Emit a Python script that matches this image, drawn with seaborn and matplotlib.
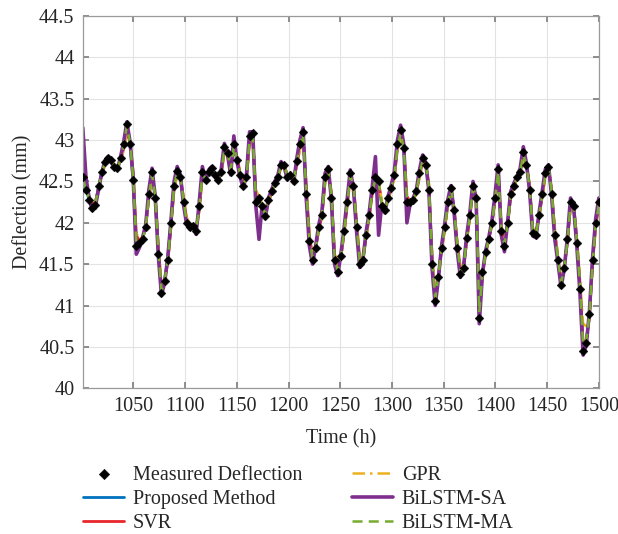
import numpy as np
import pandas as pd
import seaborn as sns
import matplotlib.pyplot as plt
from matplotlib.ticker import FormatStrFormatter, MultipleLocator

# time axis: 165 evenly spaced samples between 1001 h and 1500 h
hours = np.linspace(1001, 1500, 165)

measured = [
    42.55, 42.40, 42.28, 42.18, 42.22, 42.45, 42.62, 42.74, 42.78, 42.76,
    42.68, 42.66, 42.78, 42.95, 43.20, 42.95, 42.52, 41.72, 41.75, 41.80,
    41.95, 42.35, 42.62, 42.30, 41.62, 41.15, 41.30, 41.55, 42.00, 42.45,
    42.63, 42.55, 42.25, 42.00, 41.95, 41.96, 41.90, 42.20, 42.62, 42.52,
    42.62, 42.66, 42.58, 42.52, 42.62, 42.92, 42.84, 42.62, 42.95, 42.76,
    42.58, 42.45, 42.55, 43.05, 43.08, 42.25, 42.30, 42.20, 42.08, 42.28,
    42.38, 42.48, 42.55, 42.70, 42.70, 42.55, 42.58, 42.50, 42.75, 42.95,
    43.10, 42.35, 41.78, 41.55, 41.70, 41.95, 42.10, 42.55, 42.65, 42.30,
    41.55, 41.40, 41.60, 41.90, 42.25, 42.60, 42.45, 41.95, 41.50, 41.55,
    41.85, 42.10, 42.40, 42.55, 42.50, 42.20, 42.15, 42.30, 42.42, 42.58,
    42.95, 43.12, 42.90, 42.25, 42.25, 42.28, 42.38, 42.60, 42.78, 42.70,
    42.40, 41.50, 41.05, 41.35, 41.70, 41.95, 42.25, 42.42, 42.15, 41.70,
    41.38, 41.45, 41.82, 42.10, 42.45, 42.30, 40.85, 41.40, 41.65, 41.80,
    42.00, 42.30, 42.65, 41.90, 41.72, 42.00, 42.35, 42.45, 42.55, 42.62,
    42.85, 42.70, 42.40, 41.88, 41.85, 42.10, 42.35, 42.60, 42.68, 42.35,
    41.85, 41.55, 41.25, 41.45, 41.80, 42.25, 42.20, 41.75, 41.20, 40.45,
    40.55, 40.90, 41.55, 42.00, 42.25,
]

proposed = [
    42.52, 42.42, 42.27, 42.19, 42.24, 42.44, 42.61, 42.73, 42.77, 42.75,
    42.69, 42.67, 42.77, 42.96, 43.18, 42.96, 42.50, 41.74, 41.76, 41.81,
    41.96, 42.33, 42.60, 42.31, 41.64, 41.17, 41.31, 41.56, 41.99, 42.44,
    42.62, 42.55, 42.26, 42.01, 41.96, 41.95, 41.91, 42.19, 42.60, 42.53,
    42.61, 42.65, 42.58, 42.53, 42.61, 42.90, 42.84, 42.63, 42.93, 42.77,
    42.58, 42.46, 42.54, 43.03, 43.06, 42.27, 42.29, 42.21, 42.09, 42.27,
    42.38, 42.47, 42.55, 42.69, 42.70, 42.56, 42.57, 42.51, 42.74, 42.94,
    43.08, 42.37, 41.80, 41.56, 41.70, 41.94, 42.11, 42.54, 42.64, 42.31,
    41.57, 41.41, 41.60, 41.89, 42.24, 42.58, 42.45, 41.96, 41.52, 41.55,
    41.84, 42.09, 42.39, 42.54, 42.49, 42.21, 42.16, 42.29, 42.42, 42.57,
    42.93, 43.10, 42.89, 42.27, 42.25, 42.28, 42.37, 42.59, 42.76, 42.70,
    42.41, 41.52, 41.07, 41.35, 41.69, 41.94, 42.24, 42.41, 42.16, 41.71,
    41.40, 41.46, 41.81, 42.09, 42.43, 42.31, 40.88, 41.39, 41.64, 41.80,
    41.99, 42.29, 42.63, 41.91, 41.73, 41.99, 42.34, 42.45, 42.54, 42.62,
    42.83, 42.70, 42.41, 41.89, 41.86, 42.09, 42.34, 42.59, 42.67, 42.36,
    41.87, 41.56, 41.27, 41.45, 41.79, 42.23, 42.20, 41.76, 41.22, 40.48,
    40.56, 40.89, 41.53, 41.99, 42.22,
]

svr = [
    42.50, 42.45, 42.32, 42.22, 42.25, 42.42, 42.58, 42.70, 42.76, 42.75,
    42.70, 42.68, 42.75, 42.90, 43.12, 42.98, 42.60, 41.85, 41.78, 41.82,
    41.98, 42.30, 42.56, 42.34, 41.70, 41.22, 41.30, 41.52, 41.95, 42.40,
    42.60, 42.56, 42.30, 42.05, 41.97, 41.96, 41.93, 42.15, 42.56, 42.54,
    42.60, 42.64, 42.59, 42.55, 42.60, 42.86, 42.85, 42.66, 42.90, 42.79,
    42.60, 42.48, 42.53, 42.98, 43.04, 42.35, 42.30, 42.22, 42.10, 42.25,
    42.36, 42.46, 42.54, 42.67, 42.70, 42.58, 42.57, 42.52, 42.70, 42.90,
    43.04, 42.45, 41.85, 41.60, 41.68, 41.92, 42.08, 42.50, 42.62, 42.35,
    41.62, 41.45, 41.58, 41.86, 42.20, 42.55, 42.47, 42.00, 41.56, 41.55,
    41.82, 42.06, 42.36, 42.52, 42.50, 42.24, 42.17, 42.28, 42.40, 42.55,
    42.90, 43.06, 42.92, 42.32, 42.26, 42.27, 42.36, 42.56, 42.74, 42.71,
    42.45, 41.58, 41.12, 41.35, 41.67, 41.92, 42.22, 42.40, 42.18, 41.75,
    41.44, 41.46, 41.78, 42.06, 42.40, 42.33, 40.95, 41.38, 41.62, 41.79,
    41.98, 42.27, 42.60, 41.95, 41.76, 41.98, 42.32, 42.44, 42.54, 42.61,
    42.80, 42.71, 42.44, 41.92, 41.86, 42.07, 42.32, 42.57, 42.66, 42.40,
    41.90, 41.58, 41.30, 41.45, 41.77, 42.20, 42.21, 41.80, 41.28, 40.55,
    40.58, 40.86, 41.50, 41.96, 42.20,
]

gpr = [
    42.48, 42.44, 42.33, 42.24, 42.26, 42.40, 42.57, 42.69, 42.75, 42.74,
    42.71, 42.69, 42.74, 42.88, 43.10, 43.00, 42.62, 41.88, 41.80, 41.83,
    41.97, 42.28, 42.55, 42.36, 41.74, 41.25, 41.32, 41.52, 41.93, 42.38,
    42.58, 42.57, 42.32, 42.07, 41.98, 41.95, 41.94, 42.14, 42.54, 42.55,
    42.59, 42.63, 42.60, 42.56, 42.59, 42.84, 42.86, 42.68, 42.88, 42.80,
    42.62, 42.50, 42.52, 42.95, 43.02, 42.40, 42.32, 42.23, 42.12, 42.24,
    42.35, 42.45, 42.53, 42.66, 42.70, 42.60, 42.56, 42.53, 42.68, 42.88,
    43.02, 42.50, 41.90, 41.62, 41.67, 41.90, 42.06, 42.48, 42.61, 42.38,
    41.66, 41.48, 41.57, 41.84, 42.18, 42.52, 42.48, 42.04, 41.60, 41.56,
    41.80, 42.04, 42.34, 42.50, 42.51, 42.26, 42.18, 42.27, 42.39, 42.53,
    42.87, 43.03, 42.94, 42.36, 42.27, 42.27, 42.35, 42.54, 42.72, 42.72,
    42.48, 41.62, 41.16, 41.36, 41.66, 41.90, 42.20, 42.38, 42.20, 41.78,
    41.48, 41.47, 41.76, 42.04, 42.38, 42.35, 41.00, 41.36, 41.60, 41.78,
    41.97, 42.25, 42.58, 41.98, 41.78, 41.97, 42.30, 42.43, 42.53, 42.60,
    42.78, 42.72, 42.46, 41.95, 41.87, 42.06, 42.30, 42.55, 42.65, 42.43,
    41.94, 41.60, 41.32, 41.46, 41.75, 42.18, 42.22, 41.84, 41.32, 40.78,
    40.75, 40.88, 41.48, 41.94, 42.18,
]

bilstm_sa = [
    43.15, 42.55, 42.30, 42.15, 42.20, 42.40, 42.60, 42.75, 42.80, 42.74,
    42.66, 42.64, 42.80, 42.98, 43.22, 42.98, 42.55, 41.62, 41.70, 41.82,
    41.98, 42.40, 42.66, 42.32, 41.60, 41.12, 41.28, 41.58, 42.02, 42.50,
    42.68, 42.58, 42.22, 41.98, 41.92, 41.98, 41.86, 42.25, 42.68, 42.50,
    42.64, 42.68, 42.56, 42.50, 42.65, 42.96, 42.82, 42.58, 43.05, 42.74,
    42.55, 42.42, 42.58, 43.10, 43.10, 42.20, 41.80, 42.22, 42.05, 42.30,
    42.40, 42.50, 42.58, 42.74, 42.68, 42.52, 42.60, 42.48, 42.78, 43.00,
    43.15, 42.30, 41.72, 41.50, 41.72, 41.98, 42.14, 42.60, 42.68, 42.28,
    41.50, 41.36, 41.62, 41.92, 42.28, 42.64, 42.42, 41.90, 41.46, 41.55,
    41.88, 42.12, 42.44, 42.80, 41.85, 42.22, 42.12, 42.32, 42.45, 42.62,
    43.00, 43.18, 42.95, 42.00, 42.22, 42.30, 42.40, 42.64, 42.82, 42.72,
    42.38, 41.45, 41.00, 41.32, 41.72, 41.98, 42.28, 42.45, 42.12, 41.66,
    41.34, 41.46, 41.85, 42.12, 42.50, 42.28, 40.78, 41.38, 41.66, 41.82,
    42.02, 42.34, 42.70, 41.85, 41.65, 42.02, 42.38, 42.48, 42.56, 42.66,
    42.92, 42.72, 42.38, 41.84, 41.82, 42.12, 42.38, 42.65, 42.70, 42.32,
    41.80, 41.52, 41.22, 41.44, 41.82, 42.30, 42.18, 41.72, 41.15, 40.40,
    40.52, 40.92, 41.58, 42.05, 42.30,
]

bilstm_ma = [
    42.54, 42.41, 42.29, 42.20, 42.23, 42.43, 42.60, 42.72, 42.77, 42.76,
    42.69, 42.66, 42.76, 42.94, 43.17, 42.97, 42.54, 41.76, 41.76, 41.80,
    41.95, 42.32, 42.59, 42.32, 41.66, 41.18, 41.30, 41.55, 41.98, 42.43,
    42.61, 42.56, 42.27, 42.02, 41.96, 41.95, 41.92, 42.18, 42.59, 42.53,
    42.61, 42.65, 42.58, 42.53, 42.61, 42.89, 42.85, 42.64, 42.92, 42.77,
    42.59, 42.46, 42.54, 43.02, 43.05, 42.29, 42.29, 42.21, 42.09, 42.27,
    42.37, 42.47, 42.55, 42.68, 42.70, 42.57, 42.57, 42.51, 42.73, 42.93,
    43.07, 42.40, 41.82, 41.57, 41.69, 41.93, 42.10, 42.52, 42.64, 42.33,
    41.59, 41.42, 41.59, 41.88, 42.23, 42.57, 42.46, 41.98, 41.54, 41.55,
    41.83, 42.08, 42.38, 42.53, 42.50, 42.22, 42.16, 42.29, 42.41, 42.56,
    42.92, 43.08, 42.90, 42.29, 42.25, 42.28, 42.37, 42.58, 42.75, 42.71,
    42.43, 41.55, 41.09, 41.35, 41.68, 41.93, 42.23, 42.41, 42.17, 41.73,
    41.42, 41.46, 41.80, 42.08, 42.42, 42.32, 40.92, 41.38, 41.63, 41.80,
    41.99, 42.28, 42.62, 41.93, 41.74, 41.99, 42.33, 42.45, 42.54, 42.62,
    42.82, 42.70, 42.42, 41.90, 41.86, 42.08, 42.33, 42.58, 42.67, 42.38,
    41.88, 41.57, 41.28, 41.45, 41.78, 42.22, 42.20, 41.78, 41.25, 40.52,
    40.58, 40.88, 41.52, 41.98, 42.22,
]

df = pd.DataFrame({'Time': hours, 'Measured': measured, 'Proposed': proposed,
                   'SVR': svr, 'GPR': gpr, 'SA': bilstm_sa, 'MA': bilstm_ma})

sns.set_theme(style='whitegrid')
plt.rcParams['font.family'] = ['Liberation Serif', 'DejaVu Serif']
fs = 14.5

fig = plt.figure(figsize=(6.18, 5.34), dpi=100)
ax = fig.add_axes([0.134, 0.273, 0.835, 0.697])

sns.lineplot(data=df, x='Time', y='Proposed', ax=ax, color='#0072BD', lw=2.0, label='Proposed Method')
sns.lineplot(data=df, x='Time', y='SVR', ax=ax, color='#E8262B', lw=2.0, label='SVR')
sns.lineplot(data=df, x='Time', y='GPR', ax=ax, color='#EDB120', lw=1.8, label='GPR',
             linestyle=(0, (5, 2, 1, 2)))
sns.lineplot(data=df, x='Time', y='SA', ax=ax, color='#7E2F8E', lw=2.6, label='BiLSTM-SA')
sns.lineplot(data=df, x='Time', y='MA', ax=ax, color='#77AC30', lw=1.8, label='BiLSTM-MA',
             linestyle=(0, (4, 2.5)))
sns.scatterplot(data=df, x='Time', y='Measured', ax=ax, marker='D', s=20, color='black',
                edgecolor='black', linewidth=0.3, label='Measured Deflection', zorder=5)

ax.set_xlim(1001, 1500)
ax.set_ylim(40, 44.5)
ax.yaxis.set_major_locator(MultipleLocator(0.5))
ax.yaxis.set_major_formatter(FormatStrFormatter('%g'))
ax.set_xticks(np.arange(1050, 1501, 50))
ax.set_xlabel('Time (h)', fontsize=fs, color='#262626', labelpad=10)
ax.set_ylabel('Deflection (mm)', fontsize=fs, color='#262626', labelpad=5)
ax.tick_params(labelsize=fs, color='#808080', labelcolor='#262626', direction='in', length=4,
               top=True, right=True, left=True, bottom=True, pad=6)
ax.grid(True, color='#e3e3e3', lw=0.8)
for sp in ax.spines.values():
    sp.set_color('#9a9a9a')
    sp.set_linewidth(0.9)

handles, labels = ax.get_legend_handles_labels()
order = [5, 0, 1, 2, 3, 4]
ax.get_legend().remove()
fig.legend([handles[i] for i in order], [labels[i] for i in order],
           loc='upper left', bbox_to_anchor=(0.135, 0.128), ncol=2, frameon=False,
           fontsize=fs, handlelength=2.0, handletextpad=0.45, columnspacing=2.5,
           labelspacing=0.25, borderpad=0, borderaxespad=0, markerscale=1.2)

fig.savefig('out.png', dpi=100)
